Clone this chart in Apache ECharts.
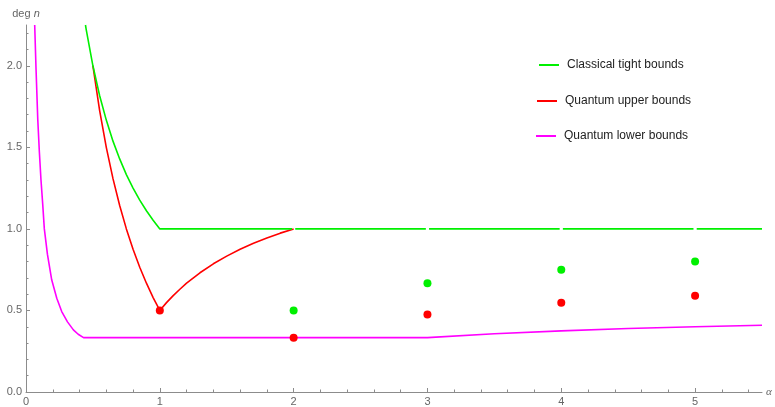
<!DOCTYPE html>
<html>
<head>
<meta charset="utf-8">
<script src="https://cdn.jsdelivr.net/npm/echarts@6/dist/echarts.min.js"></script>
<style>html,body{margin:0;padding:0;background:#fff}#c{width:775px;height:407px}</style>
</head>
<body>
<div id="c"></div>
<script>
// Tick values
var xMajorTicks = [0, 1, 2, 3, 4, 5];
var xMinorTicks = [0.2,0.4,0.6,0.8,1.2,1.4,1.6,1.8,2.2,2.4,2.6,2.8,3.2,3.4,3.6,3.8,4.2,4.4,4.6,4.8,5.2,5.4];
var yMajorTicks = [0, 0.5, 1, 1.5, 2];
var yMinorTicks = [0.1,0.2,0.3,0.4,0.6,0.7,0.8,0.9,1.1,1.2,1.3,1.4,1.6,1.7,1.8,1.9,2.1,2.2];

// Classical tight bounds (line, broken at integers)
var classicalLine = [
  [0.4444,2.25],[0.45,2.222],[0.5,2.0],[0.55,1.818],[0.6,1.667],[0.65,1.538],[0.7,1.429],
  [0.75,1.333],[0.8,1.25],[0.85,1.176],[0.9,1.111],[0.95,1.053],[1,1],
  [1.988,1],[2,'-'],[2.012,1],[2.988,1],[3,'-'],[3.012,1],[3.988,1],[4,'-'],[4.012,1],
  [4.988,1],[5,'-'],[5.012,1],[5.5,1]
];
// Quantum upper bounds (line)
var quantumUpperLine = [
  [0.5,2.0],[0.55,1.727],[0.6,1.5],[0.65,1.308],[0.7,1.143],[0.75,1.0],[0.8,0.875],
  [0.85,0.765],[0.9,0.667],[0.95,0.579],[1,0.5],
  [1.05,0.548],[1.1,0.591],[1.15,0.630],[1.2,0.667],[1.3,0.731],[1.4,0.786],[1.5,0.833],
  [1.6,0.875],[1.7,0.912],[1.8,0.944],[1.9,0.974],[2,1.0]
];
// Quantum lower bounds (line)
var quantumLowerLine = [
  [0.065,2.25],[0.075,1.98],[0.088,1.67],[0.1,1.47],[0.112,1.30],[0.125,1.15],[0.137,1.0],
  [0.16,0.845],[0.192,0.688],[0.23,0.575],[0.267,0.493],[0.31,0.43],[0.354,0.381],
  [0.39,0.354],[0.43,0.3333],[1,0.3333],[2,0.3333],[3,0.3333],[3.5,0.357],[4,0.375],
  [4.5,0.389],[5,0.4],[5.5,0.409]
];
// Points
var classicalPoints = [[2,0.5],[3,0.667],[4,0.75],[5,0.8]];
var quantumPoints = [[1,0.5],[2,0.333],[3,0.475],[4,0.547],[5,0.59]];

var GREEN = '#00f000', RED = '#ff0000', MAGENTA = '#ff00ff';
var axisColor = '#8c8c8c', labelColor = '#666';
var FONT = 'Liberation Sans, Arial, sans-serif';

function legendFor(name, left, top) {
  return {
    data: [name], orient: 'vertical', left: left, top: top, padding: 0,
    itemWidth: 20, itemHeight: 2, icon: 'rect', selectedMode: false, itemGap: 0,
    textStyle: {fontFamily: FONT, fontSize: 12, color: '#222', lineHeight: 14, padding: [0,0,0,3]}
  };
}

var chart = echarts.init(document.getElementById('c'));
chart.setOption({
  animation: false,
  grid: {left: 26, right: 13, top: 25, bottom: 15, containLabel: false},
  legend: [
    legendFor('Classical tight bounds', 539, 58),
    legendFor('Quantum upper bounds', 537, 94),
    legendFor('Quantum lower bounds', 536, 129)
  ],
  xAxis: [{
    type: 'value', min: 0, max: 5.5, interval: 1,
    name: 'α', nameLocation: 'end', nameGap: 4,
    nameTextStyle: {fontStyle: 'italic', color: labelColor, fontSize: 11, fontFamily: 'Liberation Serif, serif', verticalAlign: 'middle'},
    axisLine: {show: true, onZero: false, lineStyle: {color: axisColor, width: 1}},
    axisTick: {show: true, inside: true, length: 4, customValues: xMajorTicks, lineStyle: {color: axisColor}},
    axisLabel: {customValues: xMajorTicks, color: labelColor, fontSize: 11, margin: 4, fontFamily: FONT},
    splitLine: {show: false}
  }, {
    type: 'value', min: 0, max: 5.5, interval: 1, position: 'bottom',
    axisLine: {show: false},
    axisTick: {show: true, inside: true, length: 2.5, customValues: xMinorTicks, lineStyle: {color: axisColor}},
    axisLabel: {show: false}, splitLine: {show: false}
  }],
  yAxis: [{
    type: 'value', min: 0, max: 2.25, interval: 0.5,
    name: '{a|deg }{i|n}', nameLocation: 'end', nameGap: 6,
    nameTextStyle: {color: labelColor, fontSize: 11, fontFamily: FONT,
      rich: {a: {color: labelColor, fontSize: 11, fontFamily: FONT},
             i: {color: labelColor, fontSize: 11, fontStyle: 'italic', fontFamily: FONT}}},
    axisLine: {show: true, onZero: false, lineStyle: {color: axisColor, width: 1}},
    axisTick: {show: true, inside: true, length: 4, customValues: yMajorTicks, lineStyle: {color: axisColor}},
    axisLabel: {customValues: yMajorTicks, color: labelColor, fontSize: 11, margin: 4,
      fontFamily: FONT, formatter: function(v){return v.toFixed(1);}},
    splitLine: {show: false}
  }, {
    type: 'value', min: 0, max: 2.25, interval: 0.5, position: 'left',
    axisLine: {show: false},
    axisTick: {show: true, inside: true, length: 2.5, customValues: yMinorTicks, lineStyle: {color: axisColor}},
    axisLabel: {show: false}, splitLine: {show: false}
  }],
  series: [
    {name: 'Quantum lower bounds', type: 'line', data: quantumLowerLine, showSymbol: false, symbol: 'none',
     color: MAGENTA, lineStyle: {color: MAGENTA, width: 1.6}, z: 2},
    {name: 'Quantum upper bounds', type: 'line', data: quantumUpperLine, showSymbol: false, symbol: 'none',
     color: RED, lineStyle: {color: RED, width: 1.6}, z: 3},
    {name: 'Classical tight bounds', type: 'line', data: classicalLine, showSymbol: false, symbol: 'none',
     connectNulls: false, color: GREEN, lineStyle: {color: GREEN, width: 1.6}, z: 4},
    {name: 'cpts', type: 'scatter', data: classicalPoints, symbolSize: 8, itemStyle: {color: GREEN, opacity: 1}, z: 5},
    {name: 'qpts', type: 'scatter', data: quantumPoints, symbolSize: 8, itemStyle: {color: RED, opacity: 1}, z: 5}
  ]
});
</script>
</body>
</html>
